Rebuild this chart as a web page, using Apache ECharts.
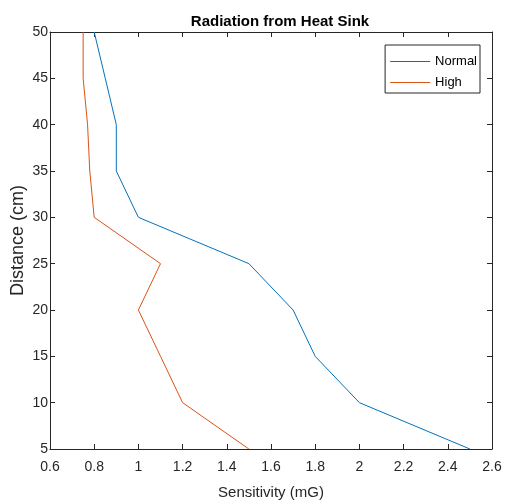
<!DOCTYPE html>
<html><head><meta charset="utf-8">
<script src="https://cdn.jsdelivr.net/npm/echarts@6/dist/echarts.min.js"></script>
<style>html,body{margin:0;padding:0;background:#fff}#c{width:506px;height:501px}</style>
</head><body><div id="c"></div>
<script>
const distances = [5, 10, 15, 20, 25, 30, 35, 40, 45, 50];
const normalValues = [2.5, 2.0, 1.8, 1.7, 1.5, 1.0, 0.9, 0.9, 0.85, 0.8];
const highValues = [1.5, 1.2, 1.1, 1.0, 1.1, 0.8, 0.78, 0.77, 0.75, 0.75];
const seriesNames = ['Normal', 'High'];

const font = 'Liberation Sans, Arial, sans-serif';
const axisColor = '#262626';
const chart = echarts.init(document.getElementById('c'));
const baseAxis = {
  axisLine: {show: true, onZero: false, lineStyle: {color: axisColor, width: 1}},
  axisTick: {show: true, inside: true, length: 5, lineStyle: {color: axisColor}},
  splitLine: {show: false},
  axisLabel: {color: axisColor, fontFamily: font, fontSize: 14},
};
chart.setOption({
  animation: false,
  title: {text: 'Radiation from Heat Sink', left: 275, textAlign: 'center', top: 9,
    textStyle: {fontFamily: font, fontSize: 15, fontWeight: 'bold', color: '#000'}},
  grid: {left: 50, right: 14, top: 32, bottom: 52, outerBoundsMode: 'none', containLabel: false},
  legend: {
    data: seriesNames.map(n => ({name: n, icon: 'rect'})), orient: 'vertical', right: 26, top: 45,
    itemWidth: 40, itemHeight: 1, itemGap: 8,
    borderColor: '#262626', borderWidth: 1, padding: [10, 3, 4, 5],
    backgroundColor: '#fff',
    textStyle: {fontFamily: font, fontSize: 13, color: '#000'},
  },
  xAxis: [
    Object.assign({}, baseAxis, {type: 'value', min: 0.6, max: 2.6, interval: 0.2,
      name: 'Sensitivity (mG)', nameLocation: 'middle', nameGap: 36, nameMoveOverlap: false,
      nameTextStyle: {fontFamily: font, fontSize: 15, color: axisColor},
      axisLabel: Object.assign({}, baseAxis.axisLabel, {margin: 11,
        formatter: v => { const r = Math.round(v * 10) / 10; return String(r); }})}),
    Object.assign({}, baseAxis, {type: 'value', position: 'top', min: 0.6, max: 2.6, interval: 0.2,
      axisLabel: {show: false}}),
  ],
  yAxis: [
    Object.assign({}, baseAxis, {type: 'value', min: 5, max: 50, interval: 5,
      name: 'Distance (cm)', nameLocation: 'middle', nameGap: 23, nameMoveOverlap: false,
      nameTextStyle: {fontFamily: font, fontSize: 18, color: axisColor},
      axisLabel: Object.assign({}, baseAxis.axisLabel, {margin: 2})}),
    Object.assign({}, baseAxis, {type: 'value', position: 'right', min: 5, max: 50, interval: 5,
      axisLabel: {show: false}}),
  ],
  series: [
    {name: seriesNames[0], type: 'line', symbol: 'none', data: distances.map((d, i) => [normalValues[i], d]),
      lineStyle: {color: '#0072BD', width: 1}, itemStyle: {color: '#0072BD'}},
    {name: seriesNames[1], type: 'line', symbol: 'none', data: distances.map((d, i) => [highValues[i], d]),
      lineStyle: {color: '#D95319', width: 1}, itemStyle: {color: '#D95319'}},
  ],
});
</script></body></html>
